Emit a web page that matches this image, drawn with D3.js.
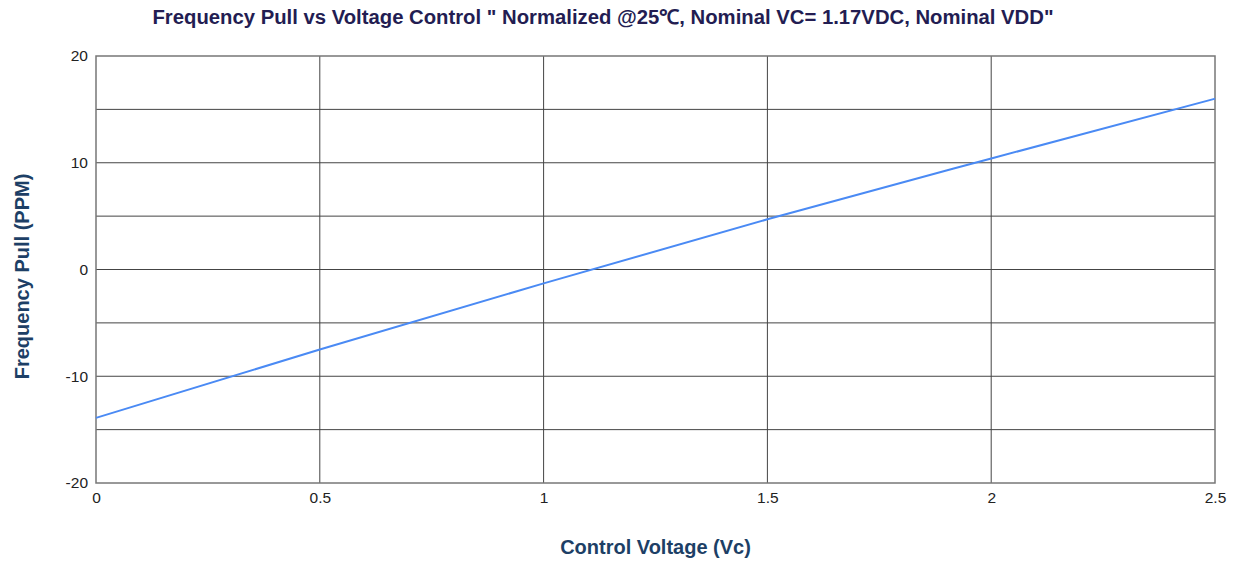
<!DOCTYPE html>
<html>
<head>
<meta charset="utf-8">
<script src="https://cdn.jsdelivr.net/npm/d3@7"></script>
<style>
  body { margin: 0; background: #fff; }
  text { font-family: "Liberation Sans", Arial, sans-serif; }
</style>
</head>
<body>
<div id="chart"></div>
<script>
// data
var voltage = [0, 0.5, 1, 1.5, 2, 2.5];
var pull = [-13.9, -7.5, -1.3, 4.7, 10.4, 16.0];
var xTicks = [0, 0.5, 1, 1.5, 2, 2.5];
var yTicks = [-20, -10, 0, 10, 20];
var yGrid = [-15, -10, -5, 0, 5, 10, 15];

var svgWidth = 1238;
var svgHeight = 562;

var margin = { top: 56, right: 23, bottom: 79, left: 96 };

var width = svgWidth - margin.left - margin.right;
var height = svgHeight - margin.top - margin.bottom;

var svg = d3.select("#chart")
  .append("svg")
  .attr("width", svgWidth)
  .attr("height", svgHeight);

var chartGroup = svg.append("g")
  .attr("transform", `translate(${margin.left}, ${margin.top})`);

var x = d3.scaleLinear().domain([0, 2.5]).range([0, width]);
var y = d3.scaleLinear().domain([-20, 20]).range([height, 0]);

// grid
chartGroup.selectAll(".hgrid")
  .data(yGrid)
  .enter()
  .append("line")
  .attr("x1", 0)
  .attr("x2", width)
  .attr("y1", d => y(d))
  .attr("y2", d => y(d))
  .attr("stroke", "#444")
  .attr("stroke-width", 1);

chartGroup.selectAll(".vgrid")
  .data(xTicks.slice(1, -1))
  .enter()
  .append("line")
  .attr("y1", 0)
  .attr("y2", height)
  .attr("x1", d => x(d))
  .attr("x2", d => x(d))
  .attr("stroke", "#444")
  .attr("stroke-width", 1);

// frame
chartGroup.append("rect")
  .attr("width", width)
  .attr("height", height)
  .attr("fill", "none")
  .attr("stroke", "#777")
  .attr("stroke-width", 1.5);

// axes (labels only), plain hyphen for negatives
var plain = d => String(d);
var xAxis = d3.axisBottom(x).tickValues(xTicks).tickSize(0).tickPadding(9).tickFormat(plain);
var yAxis = d3.axisLeft(y).tickValues(yTicks).tickSize(0).tickPadding(8).tickFormat(plain);

var gx = chartGroup.append("g")
  .attr("transform", `translate(0, ${height})`)
  .call(xAxis);
var gy = chartGroup.append("g").call(yAxis);

[gx, gy].forEach(function(g) {
  g.select(".domain").remove();
  g.selectAll("text")
    .attr("font-size", "15.5px")
    .attr("fill", "#222")
    .style("font-family", "'Liberation Sans', Arial, sans-serif");
});

// line
var line = d3.line()
  .x((d, i) => x(voltage[i]))
  .y(d => y(d))
  .curve(d3.curveMonotoneX);

chartGroup.append("path")
  .datum(pull)
  .attr("d", line)
  .attr("fill", "none")
  .attr("stroke", "#4a8af4")
  .attr("stroke-width", 2);

// titles
svg.append("text")
  .attr("x", 603)
  .attr("y", 24)
  .attr("text-anchor", "middle")
  .attr("font-size", "20.3px")
  .attr("font-weight", "bold")
  .attr("fill", "#231d52")
  .text("Frequency Pull vs Voltage Control \" Normalized @25℃, Nominal VC= 1.17VDC, Nominal VDD\"");

chartGroup.append("text")
  .attr("transform", "rotate(-90)")
  .attr("x", -height / 2 - 7)
  .attr("y", -margin.left + 29)
  .attr("text-anchor", "middle")
  .attr("font-size", "20px")
  .attr("font-weight", "bold")
  .attr("fill", "#1d3f66")
  .text("Frequency Pull (PPM)");

chartGroup.append("text")
  .attr("x", width / 2)
  .attr("y", height + 71)
  .attr("text-anchor", "middle")
  .attr("font-size", "20px")
  .attr("font-weight", "bold")
  .attr("fill", "#1d3f66")
  .text("Control Voltage (Vc)");
</script>
</body>
</html>
